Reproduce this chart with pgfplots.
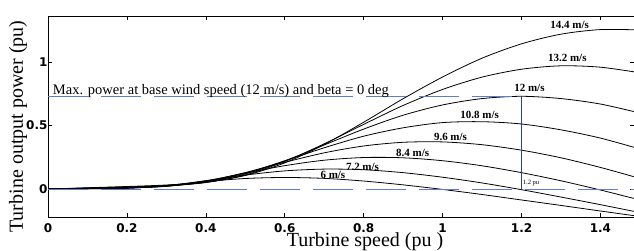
\documentclass[border=0pt]{standalone}
\usepackage{fontspec}
\setmainfont{Liberation Serif}
\newfontfamily\tickfont{DejaVu Sans}
\usepackage{pgfplots}
\pgfplotsset{compat=1.18}
\definecolor{dblue}{RGB}{95,125,205}
\definecolor{vblue}{RGB}{45,65,150}
\begin{document}
\begin{tikzpicture}
\begin{axis}[
  scale only axis, width=586pt, height=201pt,
  xmin=0, xmax=1.485, ymin=-0.22, ymax=1.362,
  xtick={0,0.2,0.4,0.6,0.8,1,1.2,1.4},
  xticklabels={0,0.2,0.4,0.6,0.8,1,1.2,1.4},
  ytick={0,0.5,1},
  yticklabels={0,0.5,1},
  tick align=inside, major tick length=4pt,
  tick style={black, line width=0.6pt},
  axis line style={line width=0.8pt},
  /pgf/number format/assume math mode=true,
  tick label style={font=\tickfont\bfseries\fontsize{12}{12}\selectfont},
  xticklabel style={yshift=-3pt},
  yticklabel style={xshift=3pt},
  xlabel={Turbine speed (pu )},
  xlabel style={font=\fontsize{20}{20}\selectfont, at={(axis description cs:0.541,0)}, anchor=center, yshift=-25pt},
  ylabel={Turbine output power (pu)},
  ylabel style={font=\fontsize{20}{20}\selectfont, at={(axis description cs:0,0.45)}, anchor=center, yshift=30pt},
  cycle list={{black, no markers}},
  every axis plot/.append style={line width=0.8pt, smooth},
  clip=true,
]
% 14.4 m/s
\addplot coordinates {(0,0)(0.1,0.010)(0.2,0.020)(0.3,0.032)(0.4,0.054)(0.5,0.107)(0.6,0.206)(0.7,0.351)(0.8,0.526)(0.9,0.711)(1.0,0.882)(1.1,1.030)(1.2,1.143)(1.3,1.219)(1.4,1.255)(1.5,1.252)};
% 13.2 m/s
\addplot coordinates {(0,0)(0.1,0.0085)(0.2,0.017)(0.3,0.0275)(0.4,0.051)(0.5,0.111)(0.6,0.217)(0.7,0.356)(0.8,0.509)(0.9,0.658)(1.0,0.784)(1.1,0.881)(1.2,0.943)(1.3,0.970)(1.4,0.959)(1.5,0.915)};
% 12 m/s
\addplot coordinates {(0,0)(0.1,0.007)(0.2,0.014)(0.3,0.024)(0.4,0.054)(0.5,0.119)(0.6,0.222)(0.7,0.347)(0.8,0.472)(0.9,0.581)(1.0,0.662)(1.1,0.712)(1.2,0.730)(1.3,0.712)(1.4,0.669)(1.5,0.598)};
% 10.8 m/s
\addplot coordinates {(0,0)(0.1,0.0057)(0.2,0.0114)(0.3,0.023)(0.4,0.055)(0.5,0.126)(0.6,0.222)(0.7,0.325)(0.8,0.416)(0.9,0.482)(1.0,0.523)(1.1,0.530)(1.2,0.512)(1.3,0.466)(1.4,0.401)(1.5,0.315)};
% 9.6 m/s
\addplot coordinates {(0,0)(0.1,0.0045)(0.2,0.0094)(0.3,0.0215)(0.4,0.061)(0.5,0.130)(0.6,0.2105)(0.7,0.285)(0.8,0.339)(0.9,0.368)(1.0,0.371)(1.1,0.349)(1.2,0.306)(1.3,0.246)(1.4,0.170)(1.5,0.0835)};
% 8.4 m/s
\addplot coordinates {(0,0)(0.1,0.0034)(0.2,0.0075)(0.3,0.023)(0.4,0.065)(0.5,0.125)(0.6,0.184)(0.7,0.227)(0.8,0.248)(0.9,0.246)(1.0,0.223)(1.1,0.183)(1.2,0.129)(1.3,0.065)(1.4,-0.0077)(1.5,-0.086)};
% 7.2 m/s
\addplot coordinates {(0,0)(0.1,0.0025)(0.2,0.0068)(0.3,0.026)(0.4,0.066)(0.5,0.110)(0.6,0.143)(0.7,0.157)(0.8,0.152)(0.9,0.129)(1.0,0.093)(1.1,0.048)(1.2,-0.005)(1.3,-0.063)(1.4,-0.123)(1.5,-0.185)};
% 6 m/s
\addplot coordinates {(0,0)(0.1,0.0017)(0.2,0.0067)(0.3,0.028)(0.4,0.059)(0.5,0.083)(0.6,0.091)(0.7,0.084)(0.8,0.063)(0.9,0.033)(1.0,-0.003)(1.1,-0.043)(1.2,-0.086)(1.3,-0.129)(1.4,-0.173)(1.5,-0.216)};
% reference lines
\addplot[dblue, line width=0.8pt, sharp plot, dash pattern=on 40pt off 13pt] coordinates {(0,0.73)(1.2,0.73)};
\addplot[dblue, line width=0.8pt, sharp plot, dash pattern=on 40pt off 13pt] coordinates {(0,0)(1.5,0)};
\addplot[vblue, line width=0.6pt, sharp plot] coordinates {(1.2,0)(1.2,0.73)};
% labels
\node[font=\fontsize{14.5}{14.5}\selectfont, anchor=base west, inner sep=0pt] at (axis cs:0.012,0.745) {Max. power at base wind speed (12 m/s) and beta = 0 deg};
\begin{scope}[every node/.style={font=\bfseries\fontsize{11}{11}\selectfont, inner sep=0pt}]
\node at (axis cs:1.322,1.29) {14.4 m/s};
\node at (axis cs:1.316,1.03) {13.2 m/s};
\node at (axis cs:1.22,0.795) {12 m/s};
\node at (axis cs:1.094,0.583) {10.8 m/s};
\node at (axis cs:1.02,0.41) {9.6 m/s};
\node at (axis cs:0.924,0.283) {8.4 m/s};
\node at (axis cs:0.797,0.173) {7.2 m/s};
\node at (axis cs:0.722,0.11) {6 m/s};
\end{scope}
\node[font=\fontsize{6.5}{6.5}\selectfont, anchor=west, inner sep=0pt] at (axis cs:1.203,0.045) {1.2 pu};
\end{axis}
\pgfresetboundingbox
\path ([shift={(-48pt,-34pt)}]current axis.south west) rectangle ([shift={(0pt,16pt)}]current axis.north east);
\end{tikzpicture}
\end{document}
